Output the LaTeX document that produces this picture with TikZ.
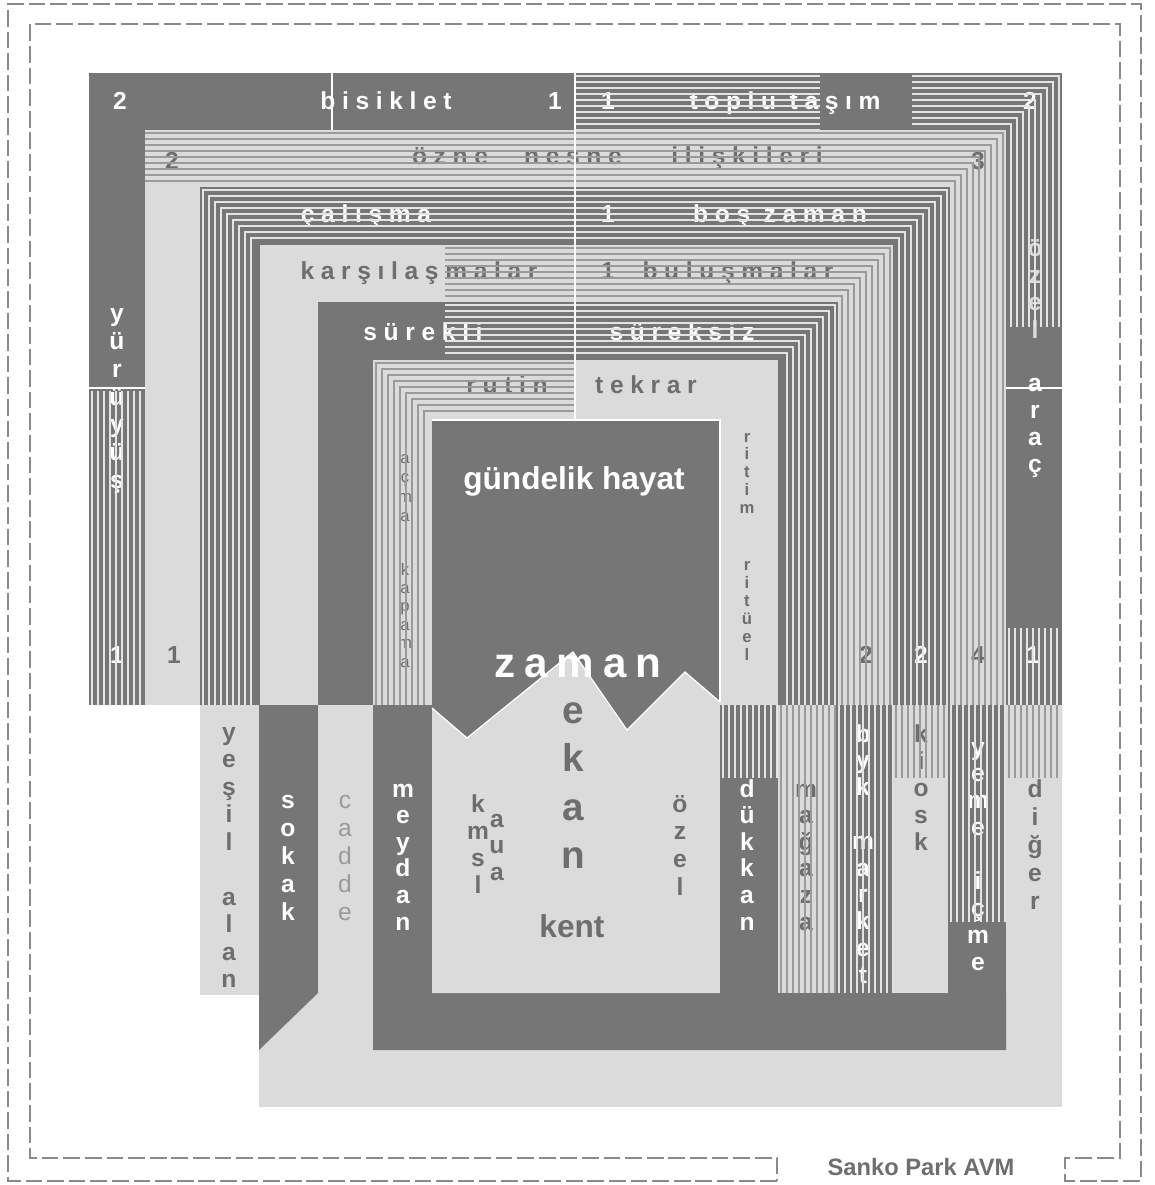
\documentclass[tikz,border=0pt]{standalone}
\usepackage{fontspec}
\setmainfont{Liberation Sans}
\definecolor{darkfill}{HTML}{767676}
\definecolor{lightfill}{HTML}{DBDBDB}
\definecolor{txtgray}{HTML}{6E6E6E}
\definecolor{cadgray}{HTML}{9A9A9A}
\definecolor{hatchlight}{HTML}{E4E4E4}
\definecolor{hatchgray}{HTML}{9A9A9A}
\definecolor{framegray}{HTML}{8A8A8A}

\tikzset{
  darkpart/.style={fill=darkfill},
  lightpart/.style={fill=lightfill},
  onlight/.style={draw=hatchgray, line width=1.1pt},
  ondark/.style={draw=hatchlight, line width=1.1pt},
  seam/.style={draw=white, line width=1.2pt},
  frame/.style={draw=framegray, line width=1pt, dash pattern=on 9.5pt off 2.8pt},
  band/.style={font=\bfseries\fontsize{14}{16}\selectfont\addfontfeature{LetterSpace=27}, inner sep=0pt, anchor=base},
  num/.style={font=\bfseries\fontsize{14}{16}\selectfont, inner sep=0pt, anchor=base},
  letter/.style={font=\bfseries\fontsize{14}{16}\selectfont, inner sep=0pt, anchor=base},
  letterreg/.style={font=\fontsize{14}{16}\selectfont, inner sep=0pt, anchor=base},
  small/.style={font=\fontsize{9.5}{11}\selectfont, inner sep=0pt, anchor=base},
  smallb/.style={font=\bfseries\fontsize{9.5}{11}\selectfont, inner sep=0pt, anchor=base},
  big/.style={font=\bfseries\fontsize{22}{24}\selectfont, inner sep=0pt, anchor=base},
  wht/.style={text=white},
  gry/.style={text=txtgray},
}

% hatch helpers
\newcommand{\hatchH}[5]{%
  \begin{scope}
    \clip (#1,#2) rectangle (#3,#4);
    \foreach \o in {3,9,...,57} \draw[#5] (#1,#2+\o) -- (#3,#2+\o);
  \end{scope}}
\newcommand{\hatchV}[5]{%
  \begin{scope}
    \clip (#1,#2) rectangle (#3,#4);
    \foreach \o in {3,9,...,57} \draw[#5] (#1+\o,#2) -- (#1+\o,#4);
  \end{scope}}
\newcommand{\cornerR}[5]{%
  \foreach \o in {3,9,...,51} \draw[#5] (#1,#2+\o) -- (#3-\o,#2+\o) -- (#3-\o,#4);}
\newcommand{\cornerL}[5]{%
  \foreach \o in {3,9,...,51} \draw[#5] (#1+\o,#4) -- (#1+\o,#2+\o) -- (#3,#2+\o);}
% vertical words, letter by letter
\newcommand{\vword}[6]{%
  \foreach \ch [count=\k from 0] in {#6}
    \node[#5] (#1\k) at (#2,{#3+\k*#4}) {\ch};}

\begin{document}
\begin{tikzpicture}[x=0.02cm, y=-0.02cm]
	\useasboundingbox (0,0) rectangle (1154,1185);
	\draw[frame] (777,1181) -- (8,1181) -- (8,4) -- (1141,4) -- (1141,1181) -- (1065,1181) -- (1065,1158)
		-- (1120,1158) -- (1120,24) -- (30,24) -- (30,1158) -- (777,1158) -- cycle;

	% nested bands
	\fill[darkpart] (89,73) rectangle (1062,705);
	\fill[lightpart] (145,130) rectangle (1006,705);
	\fill[darkpart] (200,187) rectangle (950,705);
	\fill[lightpart] (260,245) rectangle (893,705);
	\fill[darkpart] (318,302) rectangle (838,705);
	\fill[lightpart] (373,360) rectangle (778,705);
	\fill[darkpart] (432,420) rectangle (720,745);

	% lower part
	\fill[lightpart] (259,993) rectangle (1062,1107);
	\fill[lightpart] (1006,705) rectangle (1062,1107);
	\fill[lightpart] (200,705) rectangle (259,995);
	\fill[darkpart] (259,705) -- (318,705) -- (318,993) -- (259,1050) -- cycle;
	\fill[lightpart] (318,705) rectangle (373,993);
	\fill[darkpart] (373,705) -- (432,705) -- (432,993) -- (1006,993) -- (1006,1050) -- (373,1050) -- cycle;
	\fill[lightpart] (432,708) -- (467,738) -- (573,652) -- (627,730) -- (685,672) -- (720,702) -- (720,993) -- (432,993) -- cycle;
	\fill[darkpart] (720,705) rectangle (778,993);
	\fill[lightpart] (778,705) rectangle (836,993);
	\fill[darkpart] (836,705) rectangle (893,993);
	\fill[lightpart] (893,705) rectangle (948,993);
	\fill[darkpart] (948,705) rectangle (1006,993);

	% row labels
	\node[num,wht] (n2a) at (120,110) {2};
	\node[band,wht] (bisiklet) at (386,110) {bisiklet};
	\node[num,wht] (n1a) at (555,110) {1};
	\node[num,wht] (n1b) at (608,110) {1};
	\node[band,wht] (toplu) at (785,110) {toplu taşım};
	\node[num,wht] (n2b) at (1030,110) {2};
	\node[num,gry] (n2c) at (172,170) {2};
	\node[band,gry] (ozne) at (450,165) {özne};
	\node[band,gry] (nesne) at (573,165) {nesne};
	\node[band,gry] (iliskileri) at (747,165) {ilişkileri};
	\node[num,gry] (n3) at (978,170) {3};
	\node[band,wht] (calisma) at (366,223) {çalışma};
	\node[num,wht] (n1c) at (608,223) {1};
	\node[band,wht] (boszaman) at (780,223) {boş zaman};
	\node[band,gry] (karsilasma) at (419,280) {karşılaşmalar};
	\node[num,gry] (n1d) at (608,280) {1};
	\node[band,gry] (bulusma) at (738,280) {buluşmalar};
	\node[band,wht] (surekli) at (423,340) {sürekli};
	\node[band,wht] (sureksiz) at (682,340) {süreksiz};
	\node[band,gry] (rutin) at (507,393) {rutin};
	\node[band,gry] (tekrar) at (646,393) {tekrar};
	\node[num,wht] (n1e) at (117,663) {1};
	\node[num,gry] (n1f) at (174,663) {1};
	\node[num,gry] (n2d) at (866,663) {2};
	\node[num,wht] (n2e) at (921,663) {2};
	\node[num,gry] (n4) at (978,663) {4};
	\node[num,wht] (n1g) at (1033,663) {1};

	% vertical labels
	\vword{yur}{117}{322}{27.7}{letter,wht}{y,ü,r,ü,y,ü,ş}
	\vword{ozelr}{1035}{257}{27}{letter,text=lightfill}{ö,z,e,l}
	\vword{arac}{1035}{391}{27}{letter,wht}{a,r,a,ç}
	\vword{acma}{405}{463}{19.5}{small,gry}{a,ç,m,a}
	\vword{kapama}{405}{575}{18.4}{small,gry}{k,a,p,a,m,a}
	\vword{ritim}{747}{442}{17.8}{smallb,gry}{r,i,t,i,m}
	\vword{rituel}{747}{570}{18}{smallb,gry}{r,i,t,ü,e,l}
	\vword{yesil}{229}{740}{27.5}{letter,gry}{y,e,ş,i,l,,a,l,a,n}
	\vword{sokak}{288}{808}{28}{letter,wht}{s,o,k,a,k}
	\vword{cadde}{345}{808}{28}{letterreg,text=cadgray}{c,a,d,d,e}
	\vword{meydan}{403}{797}{26.6}{letter,wht}{m,e,y,d,a,n}
	\vword{kml}{478}{812}{27}{letter,gry}{k,m,s,l}
	\vword{aua}{497}{827}{26.5}{letter,gry}{a,u,a}
	\vword{ozel}{680}{812}{27.7}{letter,gry}{ö,z,e,l}
	\vword{dukkan}{747}{797}{26.6}{letter,wht}{d,ü,k,k,a,n}
	\vword{magaza}{806}{797}{26.6}{letter,gry}{m,a,ğ,a,z,a}
	\vword{market}{863}{742}{26.8}{letter,wht}{b,y,k,,m,a,r,k,e,t}
	\vword{kiosk}{921}{742}{27}{letter,gry}{k,i,o,s,k}
	\vword{yeme}{978}{755}{26.9}{letter,wht}{y,e,m,e,,i,ç,m,e}
	\vword{diger}{1035}{797}{28.2}{letter,gry}{d,i,ğ,e,r}

	% centre
	\node[font=\bfseries\fontsize{18}{20}\selectfont, text=white, anchor=base, inner sep=0pt] (gundelik) at (574,489) {gündelik hayat};
	\node[font=\bfseries\fontsize{24}{26}\selectfont\addfontfeature{LetterSpace=21}, text=white, anchor=base, inner sep=0pt] (zaman) at (578,677) {zaman};
	\vword{mekan}{573}{723}{48.5}{big,gry}{e,k,a,n}
	\node[font=\bfseries\fontsize{18}{20}\selectfont, gry, anchor=base, inner sep=0pt] (kent) at (572,937) {kent};

	% hatching
	\hatchH{575}{73}{820}{130}{ondark}
	\cornerR{912}{73}{1062}{327}{ondark}
	\hatchV{89}{391}{145}{705}{ondark}
	\hatchV{1006}{628}{1062}{705}{ondark}
	\cornerR{145}{130}{1006}{705}{onlight}
	\cornerL{200}{187}{575}{705}{ondark}
	\cornerR{575}{187}{950}{705}{ondark}
	\cornerR{445}{245}{893}{705}{onlight}
	\cornerR{445}{302}{838}{705}{ondark}
	\cornerL{373}{360}{575}{705}{onlight}
	\hatchV{720}{705}{778}{778}{ondark}
	\hatchV{778}{705}{836}{993}{onlight}
	\hatchV{836}{705}{893}{993}{ondark}
	\hatchV{893}{705}{948}{778}{onlight}
	\hatchV{948}{705}{1006}{922}{ondark}
	\hatchV{1006}{705}{1062}{778}{onlight}

	% seams
	\draw[seam] (332,73) -- (332,130);
	\draw[seam] (575,73) -- (575,420);
	\draw[seam] (89,388) -- (145,388);
	\draw[seam] (1006,388) -- (1062,388);
	\draw[seam, line width=.7pt] (432,420) -- (720,420) -- (720,702);
	\draw[seam, line width=.7pt] (432,708) -- (467,738) -- (573,652) -- (627,730) -- (685,672) -- (720,702);

	\node[font=\bfseries\fontsize{13.5}{16}\selectfont, gry, anchor=base, inner sep=0pt] (avm) at (921,1175) {Sanko Park AVM};
\end{tikzpicture}
\end{document}
